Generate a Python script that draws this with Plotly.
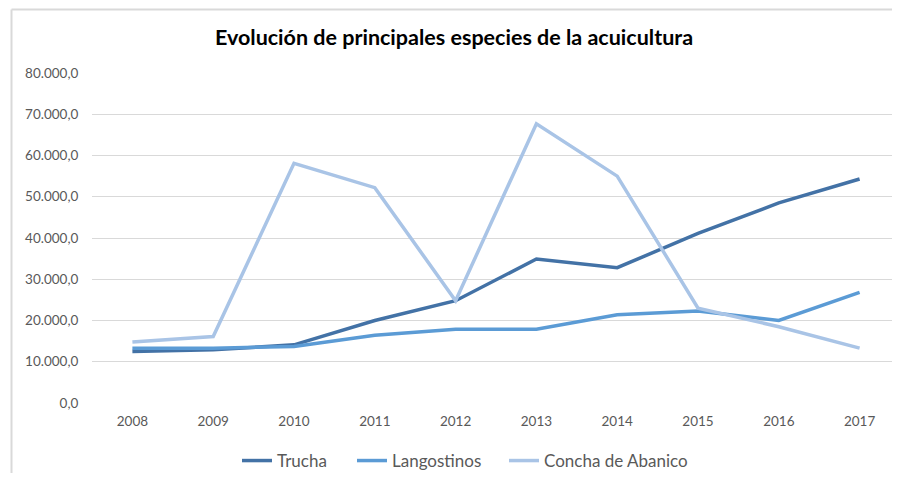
import plotly.graph_objects as go

years = ["2008", "2009", "2010", "2011", "2012", "2013", "2014", "2015", "2016", "2017"]
trucha = [12500, 12900, 14100, 20000, 24800, 34900, 32800, 41100, 48500, 54300]
langostinos = [13300, 13300, 13700, 16400, 17900, 17900, 21400, 22300, 20000, 26800]
concha = [14800, 16100, 58100, 52200, 24800, 67700, 55000, 23000, 18500, 13300]
y_ticks = [0, 10000, 20000, 30000, 40000, 50000, 60000, 70000, 80000]
y_labels = ["0,0", "10.000,0", "20.000,0", "30.000,0", "40.000,0",
            "50.000,0", "60.000,0", "70.000,0", "80.000,0"]

FONT = "Lato, Carlito, Calibri, sans-serif"

fig = go.Figure()
fig.add_trace(go.Scatter(x=years, y=trucha, name="Trucha", mode="lines",
                         legend="legend",
                         line=dict(color="#4372A6", width=3.5)))
fig.add_trace(go.Scatter(x=years, y=langostinos, name="Langostinos", mode="lines",
                         legend="legend2",
                         line=dict(color="#5B9BD5", width=3.5)))
fig.add_trace(go.Scatter(x=years, y=concha, name="Concha de Abanico", mode="lines",
                         legend="legend3",
                         line=dict(color="#A9C4E6", width=3.5)))

# the page has an 8px body margin; place the figure so it lines up with the window
OFF = 8
W, H = 900 - OFF, 481 - 2 * OFF
L, R, T, B = 84, 0, 65, 70
pw, ph = W - L - R, H - T - B

def px_x(x):
    return (x - OFF - L) / pw

def px_y(y):
    return (H - B - (y - OFF)) / ph

def leg(x_start):
    return dict(orientation="h", xref="container", yref="container",
                x=(x_start - OFF - 5) / W, xanchor="left",
                y=1 - (461 - OFF) / H, yanchor="middle",
                font=dict(size=17, color="#595959"),
                itemwidth=30, bgcolor="rgba(0,0,0,0)")

fig.update_layout(
    width=W, height=H,
    margin=dict(l=L, r=R, t=T, b=B, autoexpand=False),
    paper_bgcolor="white", plot_bgcolor="white",
    font=dict(family=FONT, color="#595959", size=13.5),
    title=dict(text="<b>Evolución de principales especies de la acuicultura</b>",
               x=(454 - OFF) / W, xanchor="center", y=1 - (37 - OFF) / H, yanchor="middle",
               font=dict(family=FONT, size=21.5, color="#000000")),
    xaxis=dict(type="category", range=[-0.5, 9.5],
               showgrid=False, zeroline=False, showline=False,
               ticks="outside", ticklen=6, tickcolor="rgba(0,0,0,0)",
               tickfont=dict(size=13.5, color="#595959")),
    yaxis=dict(range=[0, 80000], tickvals=y_ticks, ticktext=y_labels,
               showgrid=True, gridcolor="#D9D9D9", gridwidth=1.3,
               zeroline=False, showline=False,
               ticks="outside", ticklen=10, tickcolor="rgba(0,0,0,0)",
               tickfont=dict(size=13.5, color="#595959")),
    legend=leg(242),
    legend2=leg(357),
    legend3=leg(509),
    showlegend=True,
)

fig.add_shape(type="line", xref="paper", yref="paper",
              x0=px_x(11.5), x1=1, y0=px_y(9.5), y1=px_y(9.5),
              line=dict(color="#D9D9D9", width=2))
fig.add_shape(type="line", xref="paper", yref="paper",
              x0=px_x(11.5), x1=px_x(11.5), y0=px_y(9.5), y1=px_y(481),
              line=dict(color="#D9D9D9", width=2))

fig.write_html("out.html")
